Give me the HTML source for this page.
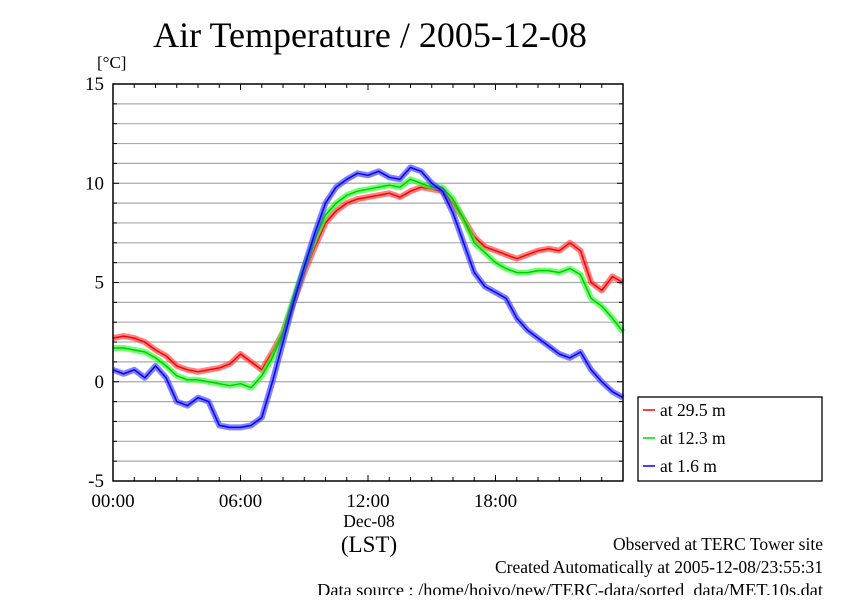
<!DOCTYPE html>
<html><head><meta charset="utf-8"><style>
body{margin:0;background:#fff;width:842px;height:595px;overflow:hidden}
svg text{font-family:"Liberation Serif",serif;fill:#000}
</style></head><body>
<svg width="842" height="595">
<text x="370" y="47" font-size="36" text-anchor="middle">Air Temperature / 2005-12-08</text>
<text x="97" y="68" font-size="17">[°C]</text>
<g id="grid"></g>
<g id="series"></g>
<g id="axes"></g>
<rect x="638" y="397" width="184" height="84" fill="#fff" stroke="#000" stroke-width="1.3"/>
<g><line x1="643" y1="410" x2="655" y2="410" stroke="#f00" stroke-width="1.5"/><text x="660" y="416" font-size="17.5">at 29.5 m</text></g>
<g><line x1="643" y1="438" x2="655" y2="438" stroke="#0d0" stroke-width="1.5"/><text x="660" y="444" font-size="17.5">at 12.3 m</text></g>
<g><line x1="643" y1="466" x2="655" y2="466" stroke="#00f" stroke-width="1.5"/><text x="660" y="472" font-size="17.5">at 1.6 m</text></g>
<text x="369" y="527" font-size="17.5" text-anchor="middle">Dec-08</text>
<text x="369" y="552" font-size="23" text-anchor="middle">(LST)</text>
<text x="823" y="550" font-size="17.5" text-anchor="end">Observed at TERC Tower site</text>
<text x="823" y="573" font-size="17.5" text-anchor="end">Created Automatically at 2005-12-08/23:55:31</text>
<text x="823" y="596" font-size="18.3" text-anchor="end">Data source : /home/hoivo/new/TERC-data/sorted_data/MET.10s.dat</text>
</svg>
<script>
const hours = Array.from({length:49},(_,i)=>i*0.5);
const red29 = [2.2,2.3,2.2,2.0,1.6,1.3,0.8,0.6,0.5,0.6,0.7,0.9,1.4,1.0,0.6,1.5,2.5,4.0,5.5,6.8,8.0,8.6,9.0,9.2,9.3,9.4,9.5,9.3,9.6,9.8,9.7,9.6,9.0,8.2,7.3,6.8,6.6,6.4,6.2,6.4,6.6,6.7,6.6,7.0,6.6,5.0,4.6,5.3,5.0];
const green12 = [1.7,1.7,1.6,1.5,1.2,0.8,0.3,0.1,0.1,0.0,-0.1,-0.2,-0.1,-0.3,0.3,1.2,2.5,4.2,5.8,7.2,8.4,9.0,9.4,9.6,9.7,9.8,9.9,9.8,10.2,10.0,9.8,9.8,9.2,8.2,7.0,6.5,6.0,5.7,5.5,5.5,5.6,5.6,5.5,5.7,5.4,4.2,3.8,3.2,2.5];
const blue16 = [0.6,0.4,0.6,0.2,0.8,0.2,-1.0,-1.2,-0.8,-1.0,-2.2,-2.3,-2.3,-2.2,-1.8,0,2.0,4.0,5.8,7.5,9.0,9.8,10.2,10.5,10.4,10.6,10.3,10.2,10.8,10.6,10.0,9.6,8.5,7.0,5.5,4.8,4.5,4.2,3.2,2.6,2.2,1.8,1.4,1.2,1.5,0.6,0.0,-0.5,-0.8];
const yTicks = [-5,0,5,10,15];
const xTickLabels = ["00:00","06:00","12:00","18:00"];
const xTickHours = [0,6,12,18];

const L=113,R=623,T=84,B=481;
const xs=h=>L+(R-L)*h/24;
const ys=v=>B-(B-T)*(v+5)/20;
const NS="http://www.w3.org/2000/svg";
function mk(p,tag,a){const e=document.createElementNS(NS,tag);for(const k in a)e.setAttribute(k,a[k]);p.appendChild(e);return e;}
const grid=document.getElementById('grid'),ser=document.getElementById('series'),ax=document.getElementById('axes');
for(let v=-4;v<15;v++){const l=mk(grid,'line',{x1:L,x2:R,y1:ys(v),y2:ys(v),stroke:'#aaa','stroke-width':1.2});

}
const sets=[[red29,'#f00','rgba(255,60,60,0.65)','series-29-5m'],[green12,'#0c0','rgba(40,255,40,0.65)','series-12-3m'],[blue16,'#00f','rgba(60,60,255,0.65)','series-1-6m']];
for(const [d,c,h,n] of sets){
 const pts=d.map((v,i)=>xs(hours[i]).toFixed(1)+','+ys(v).toFixed(1)).join(' ');
 const g=mk(ser,'g',{});
 
 
 mk(g,'polyline',{points:pts,fill:'none',stroke:h,'stroke-width':6,'stroke-linejoin':'round'});
 mk(g,'polyline',{points:pts,fill:'none',stroke:c,'stroke-width':1.5,'stroke-linejoin':'round'});
}
const fr=mk(ax,'rect',{x:L,y:T,width:R-L,height:B-T,fill:'none',stroke:'#000','stroke-width':1.5});


for(let h=0;h<=24;h++){const len=h%6==0?6:4;
 mk(ax,'line',{x1:xs(h),x2:xs(h),y1:T,y2:T+len,stroke:'#000'});
 mk(ax,'line',{x1:xs(h),x2:xs(h),y1:B,y2:B-len,stroke:'#000'});}
for(let v=-5;v<=15;v++){const len=v%5==0?6:4;
 mk(ax,'line',{x1:L,x2:L+len,y1:ys(v),y2:ys(v),stroke:'#000'});
 mk(ax,'line',{x1:R,x2:R-len,y1:ys(v),y2:ys(v),stroke:'#000'});}
yTicks.forEach(v=>{const t=mk(ax,'text',{x:104,y:ys(v)+6,'font-size':19,'text-anchor':'end'});t.textContent=v;
 
 });
xTickHours.forEach((h,i)=>{const t=mk(ax,'text',{x:xs(h),y:507,'font-size':19,'text-anchor':'middle'});t.textContent=xTickLabels[i];
 
 });
</script>
</body></html>
